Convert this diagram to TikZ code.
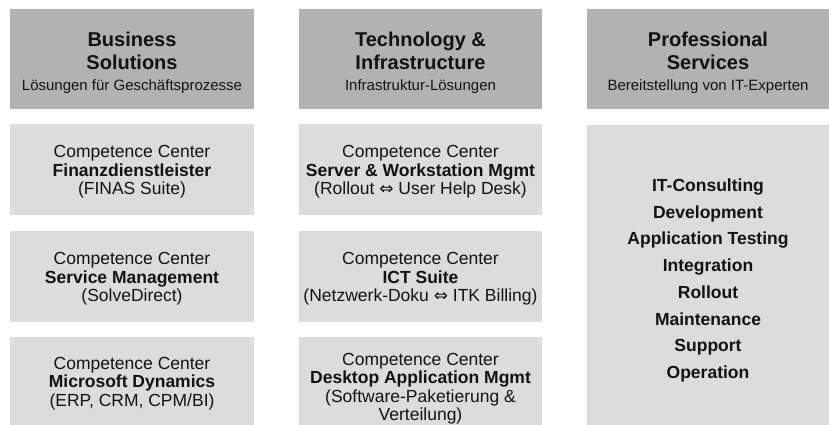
\documentclass[tikz,border=0pt]{standalone}
\usepackage{fontspec}
\setmainfont{Liberation Sans}
\newfontfamily\symf{DejaVu Sans}
\newcommand\tops[1]{\rule{0pt}{#1}}
\newcommand\bots[1]{\rule[-#1]{0pt}{#1}}
\newcommand\subt[1]{{\fontsize{15}{18}\selectfont\mdseries #1}}
\newcommand\dar{{\symf\fontsize{17}{18}\selectfont ⇔}}
\definecolor{hdrgray}{HTML}{B2B2B2}
\definecolor{cellgray}{HTML}{DCDCDC}
\definecolor{ink}{HTML}{121212}
\begin{document}
\begin{tikzpicture}[x=1pt,y=-1pt,
  box/.style={rectangle, inner sep=0pt, align=center, text=ink},
  hdr/.style={box, fill=hdrgray, minimum height=100pt, font=\fontsize{20}{23}\selectfont\bfseries},
  cell/.style={box, fill=cellgray, minimum height=91pt, font=\fontsize{17.5}{18.5}\selectfont},
  big/.style={box, fill=cellgray, minimum height=303pt, font=\fontsize{17.5}{26.67}\selectfont\bfseries},
  colL/.style={minimum width=244pt},
  colM/.style={minimum width=243pt},
  colR/.style={minimum width=242pt}]
\useasboundingbox (0,0) rectangle (829,425);
\fill[white] (0,0) rectangle (829,425);
% headers
\node[hdr,colL] (bs) at (132,59) {\tops{23.4pt}Business\\Solutions\\[-2.3pt]\subt{Lösungen für Geschäftsprozesse\bots{4pt}}};
\node[hdr,colM] (ti) at (420.5,59) {\tops{23.4pt}Technology \&\\Infrastructure\\[-2.3pt]\subt{Infrastruktur-Lösungen\bots{4pt}}};
\node[hdr,colR] (ps) at (708,59) {\tops{23.4pt}Professional\\Services\\[-2.3pt]\subt{Bereitstellung von IT-Experten\bots{4pt}}};
% left column
\node[cell,colL] (fin) at (132,169.5) {\tops{17pt}Competence Center\\\textbf{Finanzdienstleister}\\(FINAS Suite)\bots{4pt}};
\node[cell,colL] (svc) at (132,276.5) {\tops{17pt}Competence Center\\\textbf{Service Management}\\(SolveDirect)\bots{4pt}};
\node[cell,colL] (ms) at (132,382.5) {\tops{14pt}Competence Center\\\textbf{Microsoft Dynamics}\\(ERP, CRM, CPM/BI)\bots{4pt}};
% middle column
\node[cell,colM] (srv) at (420.5,169.5) {\tops{17pt}Competence Center\\\textbf{Server \& Workstation Mgmt}\\(Rollout \dar{} User Help Desk)\bots{4pt}};
\node[cell,colM] (ict) at (420.5,276.5) {\tops{17pt}Competence Center\\\textbf{ICT Suite}\\(Netzwerk-Doku \dar{} ITK Billing)\bots{4pt}};
\node[cell,colM] (dsk) at (420.5,382.5) {\tops{24.8pt}Competence Center\\\textbf{Desktop Application Mgmt}\\(Software-Paketierung \&\\Verteilung)\bots{3.8pt}};
% right column
\node[big,colR] (svcs) at (708,276.5) {\tops{21pt}IT-Consulting\\Development\\Application Testing\\Integration\\Rollout\\Maintenance\\Support\\Operation\bots{4pt}};
\end{tikzpicture}
\end{document}
